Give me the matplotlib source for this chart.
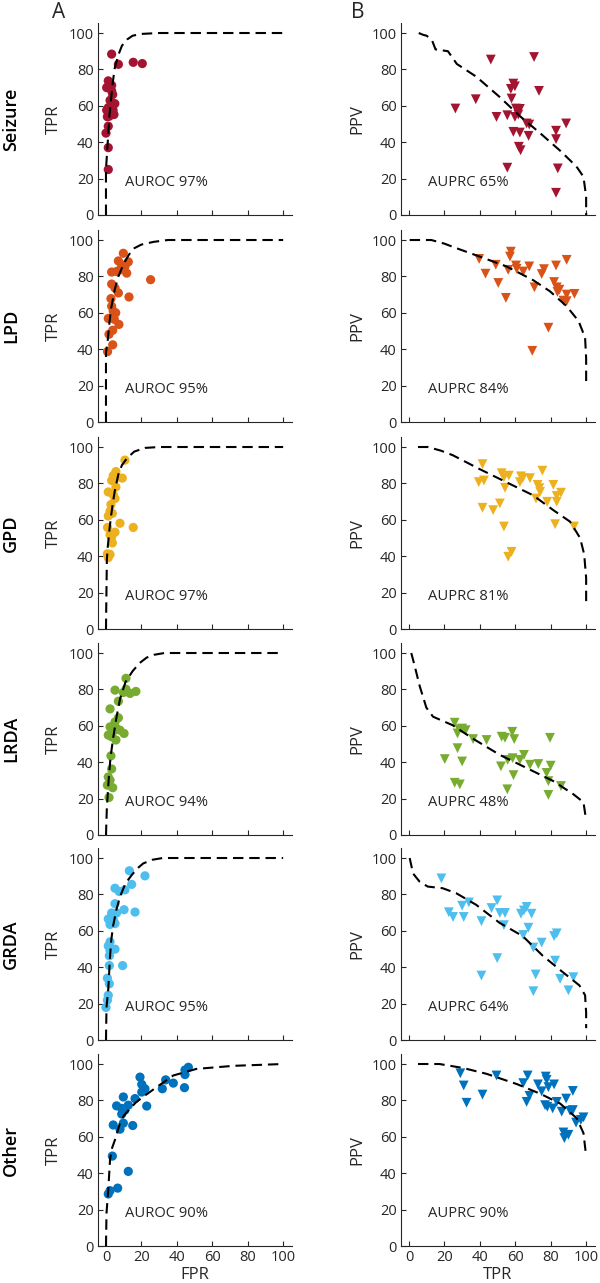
import matplotlib
matplotlib.use("Agg")
import matplotlib.pyplot as plt

plt.rcParams['font.family'] = ['Open Sans', 'DejaVu Sans']

#%% data

classes = ['Seizure', 'LPD', 'GPD', 'LRDA', 'GRDA', 'Other']
colors = ['#A2142F', '#D95319', '#EDB120', '#77AC30', '#4DBEEE', '#0072BD']
auroc = [97, 95, 97, 94, 95, 90]
auprc = [65, 84, 81, 48, 64, 90]
ticks = [0, 20, 40, 60, 80, 100]

# ROC points (FPR, TPR) per class
seizure_fpr = [3.2, 7, 15.4, 20.5, 1.3, 0.4, 3.2, 3.8, 2.3, 5, 1.3, 0.4, 4, 4.5, 1.9, 1.3, 0, 1.3, 1.3, 3.2, 0.8, 2.8]
seizure_tpr = [88.4, 82.8, 83.9, 83.2, 73.7, 70, 68.2, 66.2, 63, 61.2, 59, 57.6, 57.6, 55.2, 54.3, 48.8, 45, 37, 25, 71.3, 54, 59]
lpd_fpr = [9.8, 7, 12.6, 10.7, 7.9, 11.7, 3.2, 6, 8.9, 25.2, 3.2, 5.1, 7, 13, 2.8, 3.2, 4.1, 5.5, 1.3, 4.7, 7.3, 3.8, 1.7, 3.8, 0.9]
lpd_tpr = [92.7, 88.5, 88, 85.5, 83.6, 81.8, 82.4, 82.7, 86.4, 78.2, 75.8, 73.6, 70.9, 68.7, 67.8, 63.6, 60.9, 60, 56.9, 56.4, 53.6, 50.4, 48.2, 42.4, 38.7]
gpd_fpr = [10.7, 5.6, 9.2, 4.1, 3.2, 6.4, 5.6, 1.3, 4.1, 5.1, 2.8, 2.3, 3.6, 1.3, 7.9, 15.4, 0.9, 5.1, 2.3, 3.6, 0.8, 2.3, 1.3, 3.2]
gpd_tpr = [92.8, 86.5, 82.9, 84.3, 81.6, 83.4, 78, 75.3, 73.8, 71.7, 68.4, 64.8, 63.5, 62.1, 58.1, 55.8, 55.8, 53.2, 51.8, 47.3, 41.3, 41, 39.2, 50.5]
lrda_fpr = [11.3, 5.1, 11.3, 13.6, 16.9, 9.8, 7, 2.3, 7, 5.1, 2.3, 6, 4.1, 7.9, 1.3, 10.2, 3.2, 5.6, 2.8, 3.2, 1.3, 2.3, 0.8, 3.8, 1.7]
lrda_tpr = [86.1, 79.6, 80.1, 77.8, 78.9, 78.3, 73.5, 69.3, 64.4, 62.1, 59.4, 58.5, 57, 57.6, 54.9, 55.8, 54, 52.2, 43.5, 36.3, 31.9, 30.1, 27.4, 26, 20.6]
grda_fpr = [13.2, 22, 14.5, 5.1, 7.5, 10.7, 5.1, 10.2, 16.4, 3.2, 6, 1.3, 4.1, 2.3, 5.1, 2.3, 1.3, 5.1, 2.3, 1.9, 1.9, 9.4, 0.8, 1.9, 1.3, 0.8, 0, 3.8]
grda_tpr = [93, 90.2, 85.5, 83.4, 81.6, 82.5, 74.9, 71.6, 70.3, 69.8, 69.8, 66.5, 66.2, 63.5, 64, 53.9, 51.7, 49.9, 49, 46.3, 40.9, 40.9, 34, 30.9, 24.6, 21.9, 17.9, 68.9]
other_fpr = [46.5, 44.6, 44.6, 44.3, 38, 33.7, 31.8, 19.2, 20.2, 22, 20.2, 23, 16.4, 9.8, 12.6, 6, 8.9, 10.7, 8.9, 9.8, 4.1, 15.1, 7.9, 3.6, 12.6, 6.6, 2.3, 1.3]
other_tpr = [98.2, 96.7, 94.2, 87, 89.5, 91.3, 86.4, 92.8, 88.8, 86.4, 84.6, 76.9, 81, 81.9, 77.4, 77, 75.6, 74.7, 72.5, 67.5, 66.5, 66.2, 64.2, 49.4, 41, 31.8, 30.4, 28.6]

# PR points (TPR, PPV) per class
seizure_rec = [46.2, 70.6, 26.2, 37.7, 49.4, 55.5, 58.9, 59.8, 57.5, 57.9, 60.4, 62.6, 59.8, 61.7, 66.4, 67.9, 73.4, 58.9, 62.6, 67.5, 62, 63, 55.5, 83, 83, 88.7, 84, 83]
seizure_ppv = [85.4, 86.8, 58.5, 63.6, 53.9, 54.8, 72.2, 70.7, 69.3, 64, 58.5, 58.3, 53.9, 55.2, 50.3, 49.7, 68.2, 45.7, 45.3, 43.5, 37.5, 35.6, 26, 46.3, 41.7, 50.3, 25.6, 12.2]
lpd_rec = [57.5, 57, 39.6, 43.2, 49, 50.4, 54.7, 56, 60.4, 60.8, 64.5, 67.9, 70.8, 74.9, 76.2, 83, 89, 81.9, 83.4, 84.9, 83.8, 87.2, 89, 89, 93.4, 78.7, 69.6]
lpd_ppv = [93.6, 90.9, 89.6, 81.5, 86.4, 76.4, 68.2, 83.6, 86, 84.2, 82.7, 85.5, 74, 81.3, 84, 86, 89.1, 76.9, 74, 72.7, 71.5, 66.7, 66.4, 70, 70.4, 51.8, 39.1]
gpd_rec = [41.5, 39.4, 42.3, 41.5, 47.5, 51.3, 53.6, 52.3, 53.6, 56.4, 54.2, 63.2, 62.6, 64.2, 68.3, 75.3, 72.6, 73.6, 74, 71.7, 78, 81.5, 83.4, 85.8, 83.4, 82.5, 93.2, 57.9, 56]
gpd_ppv = [90.6, 80.7, 81.6, 66.6, 65.3, 69, 56.3, 85.6, 83.4, 84.3, 77.6, 83.9, 80.7, 82.9, 82.9, 87, 79.2, 77.4, 75.3, 71.7, 69.9, 79.2, 73.1, 74.9, 69.9, 57.6, 56.3, 42.4, 39.7]
lrda_rec = [25.8, 28.3, 30, 32, 27.4, 36.2, 43.8, 52.3, 54.2, 58.3, 59.4, 27.4, 20.2, 30, 25.8, 28.7, 51.9, 55.7, 58.5, 62.6, 64.9, 59, 55.5, 68.3, 73, 79.6, 80, 77.7, 78.7, 78.7, 85.8]
lrda_ppv = [61.7, 58.1, 58.5, 57.6, 55.8, 52.7, 52.2, 54, 53.4, 56.7, 52.7, 47.7, 41.7, 40.4, 28.7, 27.8, 37.7, 41.3, 42.2, 41.3, 44, 32.9, 25.1, 38.6, 39, 53.4, 38.1, 34.1, 29.6, 22, 26.9]
grda_rec = [18.3, 22.5, 24.9, 30, 30.9, 33.8, 40.9, 46.6, 49.8, 51.3, 54.2, 53.6, 49.8, 40.9, 63.2, 64.9, 66.4, 69.2, 67.4, 64.5, 70.2, 74.9, 71.5, 70.2, 81.9, 83.4, 82.5, 85.3, 92.8, 90]
grda_ppv = [88.8, 70.2, 67.6, 73.8, 67.6, 75.6, 65.3, 72.5, 76.7, 69.8, 69.8, 63.1, 45, 35.4, 69.4, 71.2, 73.1, 69.4, 61.7, 57.7, 50.8, 53.5, 36, 26.8, 57.1, 58.6, 43.6, 33.6, 34.5, 27.3]
other_rec = [29, 30.9, 32.5, 41.5, 49.4, 64.5, 67, 68, 66.4, 72.8, 77.2, 77.7, 74.9, 78.7, 81.9, 76.8, 78.1, 81.1, 83.4, 88.7, 86.2, 92.5, 92.5, 90.9, 94.3, 98.5, 97, 87.2, 90, 87.7]
other_ppv = [94.9, 88.2, 78.7, 83.2, 93.7, 89.5, 93.7, 82.5, 79.2, 88.8, 93.1, 91.3, 85, 87.3, 88.8, 77.4, 76.5, 75.6, 79.2, 81, 73.8, 85.2, 74.7, 74.3, 67.8, 70.7, 69.3, 62.4, 61.1, 59.3]

# dashed ROC curves
seizure_roc_x = [0, 0, 1, 2, 3, 4, 5, 7, 9, 12, 15, 20, 30, 100]
seizure_roc_y = [0, 25, 40, 55, 65, 74, 81, 88, 93, 96.5, 98.5, 99.5, 100, 100]
lpd_roc_x = [0, 0, 1, 2, 3, 5, 7, 10, 13, 16, 20, 27, 35, 100]
lpd_roc_y = [0, 38, 45, 55, 63, 73, 80, 87, 92, 95.5, 97.5, 99, 100, 100]
gpd_roc_x = [0, 0.5, 1, 2, 3, 4, 5, 7, 9, 12, 16, 22, 30, 100]
gpd_roc_y = [0, 38, 45, 55, 63, 70, 76, 85, 90, 94, 97.5, 99.5, 100, 100]
lrda_roc_x = [0, 0.5, 1.5, 2.5, 4, 6, 8, 11, 15, 19, 23, 27, 33, 100]
lrda_roc_y = [0, 15, 30, 42, 53, 65, 75, 84, 90, 94.5, 97.5, 99, 100, 100]
grda_roc_x = [0, 0.3, 1.3, 2.3, 3, 4, 6, 8, 11, 14.5, 18, 21, 26, 32, 100]
grda_roc_y = [0, 18, 28, 46, 55, 62.6, 72, 79, 86, 90.6, 94.5, 97, 99, 100, 100]
other_roc_x = [0, 0.3, 1.3, 2.3, 3.5, 5.1, 7.9, 10, 13.6, 17, 21, 28.6, 38, 51, 72, 100]
other_roc_y = [0, 18, 31, 47.6, 54, 58.4, 67.5, 71.5, 75.6, 79, 82, 87.3, 93.7, 97.3, 99, 100]

# dashed PR curves
seizure_pr_x = [5.5, 8, 10, 13, 15, 22, 27, 38, 51, 63, 74, 85, 91, 95, 98.5, 100, 100]
seizure_pr_y = [100, 99, 98.5, 96, 91, 90, 83, 76, 65, 54, 45, 35.6, 30, 26, 21, 10, 0]
lpd_pr_x = [0.4, 12.6, 20, 26.8, 39.6, 55, 70, 79.6, 89, 95.7, 99.4, 100, 100]
lpd_pr_y = [100, 100, 98, 95.5, 91, 85.5, 78, 71.8, 63.6, 55.5, 46.4, 35, 21]
gpd_pr_x = [5.1, 10.6, 18, 24.7, 39.8, 54.9, 70, 81.5, 90.9, 96.6, 98.9, 100, 100]
gpd_pr_y = [100, 100, 98, 95.5, 87.9, 80.7, 73.5, 65.3, 59, 50, 41, 28, 14]
lrda_pr_x = [1.3, 3.2, 6, 9.8, 13.6, 24.7, 36, 51.3, 70.2, 81.5, 92.8, 98.5, 100]
lrda_pr_y = [100, 93, 82, 70, 65, 60.3, 53, 44, 35, 29.6, 22.4, 18, 8]
grda_pr_x = [0.4, 2.3, 6, 10.6, 19, 26.6, 37.9, 51.1, 64.2, 75.5, 86.8, 96.2, 99.4, 100, 100]
grda_pr_y = [100, 91.5, 87, 84.3, 83.4, 80.7, 74.3, 64.4, 57.1, 46.3, 37.3, 30, 24.6, 15, 6.5]
other_pr_x = [5.1, 17.2, 30.6, 43.8, 60.8, 74, 85.3, 94.7, 98.5, 100]
other_pr_y = [100, 100, 97.8, 94.6, 89, 83.7, 78.3, 70.2, 62, 49.4]

roc_pts = [(seizure_fpr, seizure_tpr), (lpd_fpr, lpd_tpr), (gpd_fpr, gpd_tpr),
           (lrda_fpr, lrda_tpr), (grda_fpr, grda_tpr), (other_fpr, other_tpr)]
pr_pts = [(seizure_rec, seizure_ppv), (lpd_rec, lpd_ppv), (gpd_rec, gpd_ppv),
          (lrda_rec, lrda_ppv), (grda_rec, grda_ppv), (other_rec, other_ppv)]
roc_curves = [(seizure_roc_x, seizure_roc_y), (lpd_roc_x, lpd_roc_y), (gpd_roc_x, gpd_roc_y),
              (lrda_roc_x, lrda_roc_y), (grda_roc_x, grda_roc_y), (other_roc_x, other_roc_y)]
pr_curves = [(seizure_pr_x, seizure_pr_y), (lpd_pr_x, lpd_pr_y), (gpd_pr_x, gpd_pr_y),
             (lrda_pr_x, lrda_pr_y), (grda_pr_x, grda_pr_y), (other_pr_x, other_pr_y)]

#%% figure

W, H = 600, 1283
fig = plt.figure(figsize=(W / 100, H / 100), dpi=100)

axcol = '#262626'
row_bottoms = [215, 422, 629, 835, 1040, 1246]  # pixel row of y=0
ax_h = 192
ax_w = 194
col_left = [98, 401]
dash = (0, (5, 2.8))


def style_axis(ax, last):
    ax.set_xlim(-4.5, 105)
    ax.set_ylim(0, 105.5)
    ax.set_xticks(ticks)
    ax.set_yticks(ticks)
    for s in ['top', 'right']:
        ax.spines[s].set_visible(False)
    for s in ['left', 'bottom']:
        ax.spines[s].set_color(axcol)
        ax.spines[s].set_linewidth(0.8)
    ax.tick_params(direction='in', length=3.5, width=0.8, colors=axcol,
                   labelsize=10.5, pad=3)
    if not last:
        ax.set_xticklabels([])


for i, cls in enumerate(classes):
    b = row_bottoms[i]
    last = i == len(classes) - 1
    for j in range(2):
        ax = fig.add_axes([col_left[j] / W, 1 - b / H, ax_w / W, ax_h / H])
        style_axis(ax, last)
        if j == 0:
            x, y = roc_pts[i]
            ax.scatter(x, y, s=44, marker='o', color=colors[i], edgecolors='none',
                       zorder=2, clip_on=False)
            cx, cy = roc_curves[i]
            ax.plot(cx, cy, color='black', lw=1.5, linestyle=dash, zorder=3)
            ax.text(11, 18, 'AUROC %d%%' % auroc[i], fontsize=10.6, color=axcol, va='center')
            ax.set_ylabel('TPR', fontsize=12, color=axcol)
            ax.yaxis.set_label_coords(-0.186, 0.5)
            if last:
                ax.set_xlabel('FPR', fontsize=12, color=axcol, labelpad=1)
            fig.text(11 / W, 1 - (b - ax_h / 2) / H, cls, rotation=90, fontsize=13,
                     fontweight='semibold', color='black', ha='center', va='center')
        else:
            x, y = pr_pts[i]
            ax.scatter(x, y, s=50, marker='v', color=colors[i], edgecolors='none',
                       zorder=2, clip_on=False)
            cx, cy = pr_curves[i]
            ax.plot(cx, cy, color='black', lw=1.5, linestyle=dash, zorder=3)
            ax.text(11, 18, 'AUPRC %d%%' % auprc[i], fontsize=10.6, color=axcol, va='center')
            ax.set_ylabel('PPV', fontsize=12, color=axcol)
            ax.yaxis.set_label_coords(-0.186, 0.5)
            if last:
                ax.set_xlabel('TPR', fontsize=12, color=axcol, labelpad=1)

fig.text(59 / W, 1 - 12 / H, 'A', fontsize=15, ha='center', va='center', color=axcol)
fig.text(358 / W, 1 - 12 / H, 'B', fontsize=15, ha='center', va='center', color=axcol)

fig.savefig('out.png', dpi=100)
